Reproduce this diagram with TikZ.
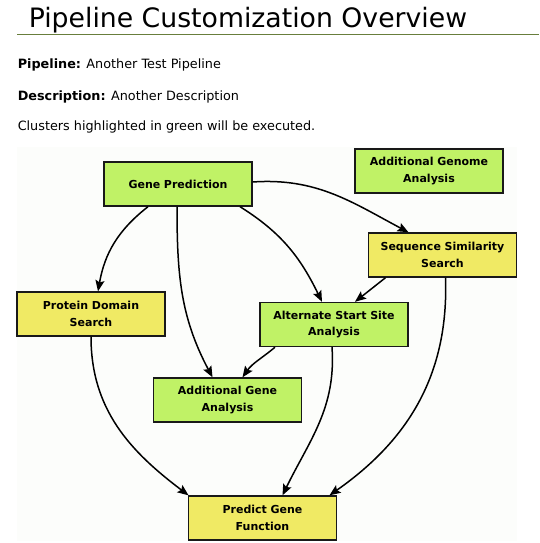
\documentclass[tikz,border=0pt]{standalone}
\usepackage{fontspec}
\setmainfont{DejaVu Sans}
\usetikzlibrary{arrows.meta}

\definecolor{runGreen}{HTML}{C0F266}
\definecolor{skipYellow}{HTML}{F0EA64}
\definecolor{ruleOlive}{HTML}{687E3C}
\definecolor{graphBack}{HTML}{FCFDFB}

\tikzset{
  cluster/.style = {draw = black!90, line width = 1.4pt, minimum width = 148pt,
                    minimum height = 44pt, text width = 144pt, align = center,
                    inner sep = 0pt, font = \fontsize{11}{16.5}\selectfont\bfseries},
  run/.style  = {cluster, fill = runGreen},
  skip/.style = {cluster, fill = skipYellow},
  infoline/.style = {anchor = base west, inner sep = 0pt, font = \fontsize{12.8}{15}\selectfont}
}

\begin{document}
\begin{tikzpicture}[x = 1pt, y = 1pt, line width = 1.5pt,
                    link/.style = {draw, -{Stealth[length = 11pt, width = 9pt, inset = 2pt]}}]
        \useasboundingbox (0,0) rectangle (539,-543);
        \fill [graphBack] (17,-147) rectangle (517,-541);

        % heading
        \node [anchor = base west, inner sep = 0pt, font = \fontsize{26.7}{30}\selectfont] (title) at (28,-28) {Pipeline Customization Overview};
        \draw [ruleOlive, line width = 1pt] (17,-34.5) -- (539,-34.5);
        \node [infoline] (pipe) at (17,-68.5) {\textbf{Pipeline:} Another Test Pipeline};
        \node [infoline] (desc) at (17,-100) {\textbf{Description:} Another Description};
        \node [infoline] (note) at (17,-130.5) {Clusters highlighted in green will be executed.};

        % clusters
        \node [run] (GP) at (178,-184) {Gene Prediction};
        \node [run] (AGeA) at (429,-171) {Additional Genome\\Analysis};
        \node [skip] (SSS) at (442.5,-255) {Sequence Similarity\\Search};
        \node [skip] (PDS) at (91,-314) {Protein Domain\\Search};
        \node [run] (ASSA) at (334,-324.5) {Alternate Start Site\\Analysis};
        \node [run] (AGA) at (227.5,-400) {Additional Gene\\Analysis};
        \node [skip] (PGF) at (262.5,-518) {Predict Gene\\Function};

        \path
            ([xshift = -30]GP.south) edge [link, out = 218, in = 80] ([xshift = 7]PDS.north)
            ([xshift = -1]GP.south) edge [link, out = 270, in = 118] ([xshift = -15]AGA.north)
            ([xshift = 62]GP.south) edge [link, out = -32, in = 116] ([xshift = -12]ASSA.north)
            ([yshift = 2]GP.east) edge [link, out = 4, in = 152] ([xshift = -34]SSS.north)
            ([xshift = -57]SSS.south) edge [link] ([xshift = 21]ASSA.north)
            ([xshift = -59]ASSA.south) edge [link, out = 220, in = 55] ([xshift = 15]AGA.north)
            ([xshift = -2]ASSA.south) edge [link, out = -86, in = 64] ([xshift = 20]PGF.north)
            ([xshift = 3]SSS.south) edge [link, out = -88, in = 35] ([xshift = 67]PGF.north)
            (PDS.south) edge [link, out = -90, in = 143] ([xshift = -74]PGF.north);
    \end{tikzpicture}
\end{document}
